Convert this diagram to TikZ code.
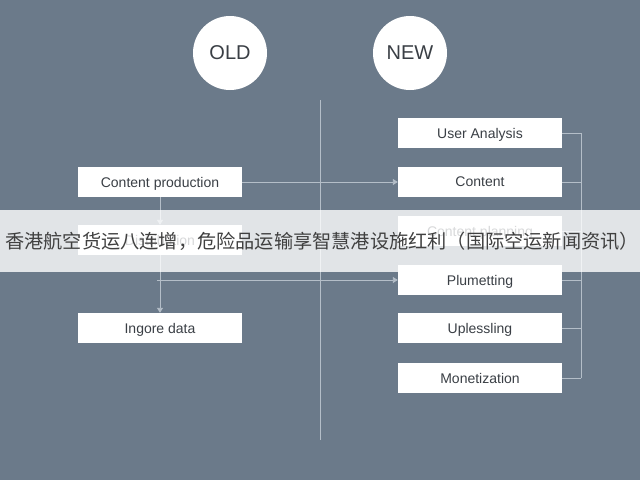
\documentclass[tikz,border=0pt]{standalone}
\usepackage{fontspec}
\setmainfont{Liberation Sans}
\newfontfamily\cjk{Noto Sans CJK SC}
\usetikzlibrary{arrows.meta}
\definecolor{bg}{HTML}{6B7A8A}
\definecolor{ln}{HTML}{B4BEC8}
\definecolor{tx}{HTML}{3A3F45}
\begin{document}
\begin{tikzpicture}[x=1pt,y=-1pt,
 box/.style={draw=none,fill=white,minimum width=164pt,minimum height=30pt,inner sep=0pt,font=\fontsize{14}{16}\selectfont,text=tx,text depth=0pt},
 circ/.style={circle,fill=white,minimum size=74pt,inner sep=0pt,font=\fontsize{20}{22}\selectfont,text=tx},
 con/.style={draw=ln,line width=0.9pt},
 arr/.style={con,-{Triangle[width=6pt,length=5pt]}}]
\fill[bg] (0,0) rectangle (640,480);
\useasboundingbox (0,0) rectangle (640,480);
\node[circ] (old) at (230,53) {OLD};
\node[circ] (new) at (410,53) {NEW};
\coordinate (vt) at (320,100); \coordinate (vb) at (320,440);
\draw[con] (vt) -- (vb);
\node[box] (cp) at (160,182) {Content production};
\node[box] (dist) at (160,240) {Distribution};
\node[box] (ig) at (160,328) {Ingore data};
\node[box] (ua) at (480,133) {User Analysis};
\node[box] (ct) at (480,182) {Content};
\node[box] (pl) at (480,231) {Content planning};
\node[box] (pm) at (480,280) {Plumetting};
\node[box] (up) at (480,328) {Uplessling};
\node[box] (mo) at (480,378) {Monetization};
\draw[arr] (cp.south) -- (dist.north);
\draw[arr] (dist.south) -- (ig.north);
\draw[arr] (cp.east) -- (ct.west);
\coordinate (br) at (157,280);
\draw[arr] (br) -- (pm.west);
\coordinate (bt) at (581,133); \coordinate (bb) at (581,378);
\draw[con] (bt) -- (bb);
\foreach \n in {ua,ct,pl,pm,up,mo}{\draw[con] (\n.east) -- (\n.east -| bt);}
\fill[white,opacity=0.8] (0,210) rectangle (640,272);
\node[text=black!75,font=\cjk\fontsize{19.2}{22}\selectfont,anchor=east,inner sep=0pt] (ban) at (639,241) {香港航空货运八连增，危险品运输享智慧港设施红利（国际空运新闻资讯）};
\end{tikzpicture}
\end{document}
